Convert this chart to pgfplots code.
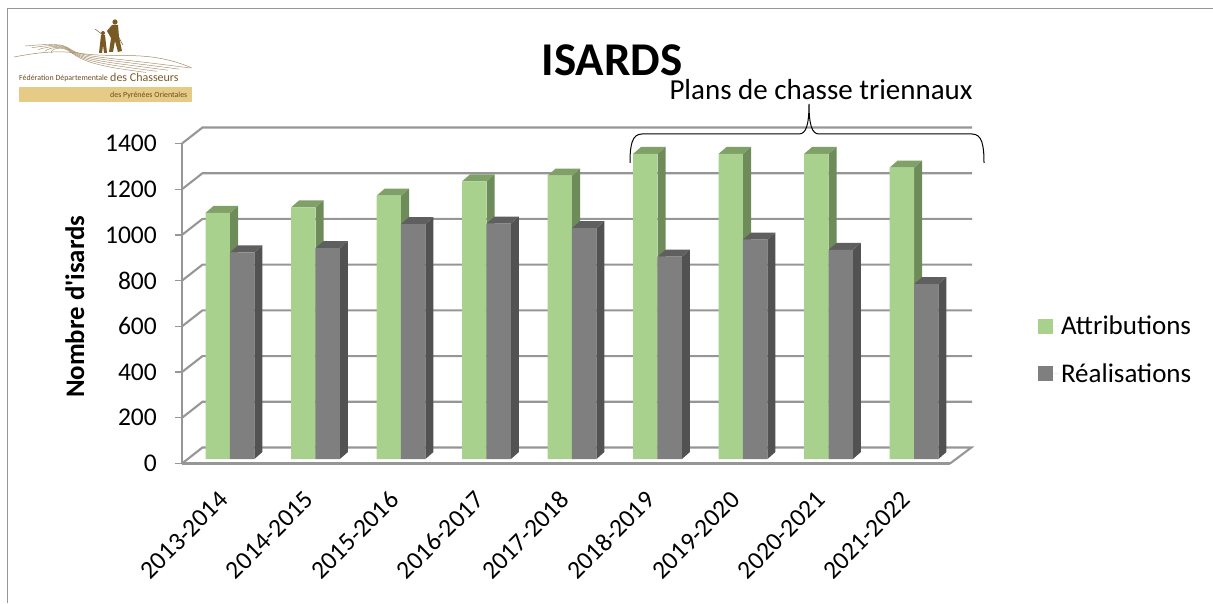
\documentclass[border=0pt]{standalone}
\usepackage{pgfplots}
\usepackage{pgfplotstable}
\usepackage{fontspec}
\pgfplotsset{compat=1.18}
\setmainfont{Carlito}[Ligatures=TeXOff]
\definecolor{gridg}{HTML}{969696}
\definecolor{attrF}{HTML}{A9D18E}
\definecolor{attrT}{HTML}{7FA067}
\definecolor{attrS}{HTML}{6E8C5A}
\definecolor{realF}{HTML}{7F7F7F}
\definecolor{realT}{HTML}{5F5F5F}
\definecolor{realS}{HTML}{525252}
\definecolor{logoB}{HTML}{7A5A24}
\definecolor{logoY}{HTML}{E6CB86}
\pgfplotstableread{
x     attr  real
0.000 1077  904
1.002 1101  923
2.004 1152  1028
3.006 1215  1030
4.008 1240  1010
5.010 1335  885
6.012 1335  960
7.014 1335  915
8.016 1275  765
}\datatable
\begin{document}
\begin{tikzpicture}[x=1pt,y=1pt]
\path[use as bounding box] (0,0) rectangle (1213,603);
\begin{scope}[yshift=603pt,y=-1pt]
\draw[gridg,line width=1pt] (7.5,603) -- (7.5,8.5) -- (1213,8.5);
% logo
\fill[logoY] (19,87) rectangle (192,102);
\node[anchor=west,inner sep=0pt,text=logoB!85!black,font=\fontsize{7.9}{10}\selectfont] at (19,78.5) {Fédération Départementale};
\node[anchor=west,inner sep=0pt,text=logoB,font=\fontsize{12}{15}\selectfont] at (110,77.5) {des Chasseurs};
\node[anchor=west,inner sep=0pt,text=logoB!85!black,font=\fontsize{7.9}{10}\selectfont] at (110,95) {des Pyrénées Orientales};
\foreach \d in {0,2.2,4.4,6.6,8.8}{
  \draw[logoB!70,line width=.45pt] (\d*3+25,46+\d*.8) .. controls (50,44+\d*.5) and (62,43+\d*.3) .. (70,49+\d*.3) .. controls (84,58+\d*.5) and (100,56+\d*1.2) .. (190-\d*5,68+\d*.5);
}
\draw[logoB!70,line width=.5pt] (14,57) .. controls (40,52) and (60,50) .. (85,54) .. controls (120,58) and (150,50) .. (192,68);
\fill[logoB] (115,22) circle (2.6);
\fill[logoB] (112,25) -- (118,25) -- (119,37) -- (122,51) -- (118,52) -- (115,41) -- (113,52) -- (109,52) -- (111,38) -- (107,31) -- cycle;
\fill[logoB] (103,33) circle (2);
\fill[logoB] (101,35) -- (105,35) -- (106,44) -- (107,53) -- (104,53) -- (103,45) -- (102,53) -- (99,53) -- (100,44) -- cycle;
\draw[logoB,line width=.5pt] (95,29) -- (103,35) (118,36) -- (123,45);
\end{scope}
% chart
\begin{axis}[
  at={(182pt,139.5pt)},anchor=south west,
  scale only axis,width=768pt,height=320pt,
  xmin=-0.5,xmax=8.5,ymin=0,ymax=1400,
  clip=false,
  axis x line*=bottom,axis y line*=left,
  axis line style={draw=gridg,line width=2.1pt,-},
  tick style={draw=gridg,line width=1.4pt},
  tick align=outside,
  major tick length=7pt,
  x tick style={draw=none},
  xtick={0,...,8},
  xticklabels={2013-2014,2014-2015,2015-2016,2016-2017,2017-2018,2018-2019,2019-2020,2020-2021,2021-2022},
  ytick={0,200,...,1400},
  /pgf/number format/assume math mode=true,
  /pgf/number format/1000 sep={},
  tick label style={font=\fontsize{25.5}{30}\selectfont,text=black},
  xticklabel style={rotate=45,anchor=east,inner sep=0pt,xshift=-18.5pt,yshift=-17pt},
  yticklabel style={inner sep=0pt,xshift=-18pt},
  ylabel={Nombre d'isards},
  ylabel style={font=\bfseries\fontsize{26.8}{28}\selectfont,at={(axis description cs:-0.1395,0.49)},anchor=center,rotate=0},
  legend style={draw=none,fill=none,at={(1.1146,0.355)},anchor=west,inner sep=0pt,outer sep=0pt,
    font=\fontsize{27}{30}\selectfont,row sep=23pt},
  legend cell align=left,
]
% walls and floor
\pgfplotsinvokeforeach{200,400,...,1400}{
  \addplot[gridg,line width=2.1pt,forget plot] coordinates {(-0.5,#1) (-0.26,70+#1) (8.76,70+#1)};
}
\addplot[gridg,line width=2.1pt,forget plot] coordinates {(-0.5,0) (-0.26,70) (8.75,70) (8.5,0)};
% bars
\pgfplotsinvokeforeach{0,...,8}{
  \pgfplotstablegetelem{#1}{x}\of\datatable\edef\xc{\pgfplotsretval}
  \pgfplotstablegetelem{#1}{attr}\of\datatable\edef\va{\pgfplotsretval}
  \pgfplotstablegetelem{#1}{real}\of\datatable\edef\vr{\pgfplotsretval}
  \pgfmathsetmacro\xA{\xc+0.0625-0.286}
  \pgfmathsetmacro\xB{\xc+0.0625}
  \pgfmathsetmacro\xC{\xc+0.0625+0.286}
  \pgfmathsetmacro\xAd{\xA+0.094}
  \pgfmathsetmacro\xBd{\xB+0.094}
  \pgfmathsetmacro\xCd{\xC+0.094}
  \pgfmathsetmacro\dva{\va+30.6}
  \pgfmathsetmacro\dvr{\vr+30.6}
  \edef\tmp{
   \noexpand\addplot[fill=attrS,draw=none,forget plot,yshift=4.5pt] coordinates {(\xB,0)(\xBd,30.6)(\xBd,\dva)(\xB,\va)} --cycle;
   \noexpand\addplot[fill=attrT,draw=none,forget plot,yshift=4.5pt] coordinates {(\xA,\va)(\xB,\va)(\xBd,\dva)(\xAd,\dva)} --cycle;
   \noexpand\addplot[fill=realS,draw=none,forget plot,yshift=4.5pt] coordinates {(\xC,0)(\xCd,30.6)(\xCd,\dvr)(\xC,\vr)} --cycle;
   \noexpand\addplot[fill=realT,draw=none,forget plot,yshift=4.5pt] coordinates {(\xB,\vr)(\xC,\vr)(\xCd,\dvr)(\xBd,\dvr)} --cycle;
  }
  \tmp
}
\pgfplotsset{my legend/.style={legend image code/.code={\fill[##1] (0pt,-12pt) rectangle (15pt,3pt);\path (0pt,-4.5pt) -- (21pt,-4.5pt);}}}
\addplot[ybar,my legend,bar width=24.4pt,bar shift=-6.9pt,fill=attrF,draw=none,yshift=4.5pt] table[x=x,y=attr] {\datatable};
\addlegendentry{Attributions}
\addplot[ybar,my legend,bar width=24.4pt,bar shift=17.5pt,fill=realF,draw=none,yshift=4.5pt] table[x=x,y=real] {\datatable};
\addlegendentry{Réalisations}
\end{axis}
% title and brace
\begin{scope}[yshift=603pt,y=-1pt]
\node[font=\bfseries\fontsize{47}{50}\selectfont,inner sep=0pt] at (612,60) {ISARDS};
\node[font=\fontsize{29}{30}\selectfont,inner sep=0pt] at (821,90) {Plans de chasse triennaux};
\draw[black,line width=1pt] (630,163) .. controls (630,145) and (632,134) .. (642,134) -- (799,134)
  .. controls (806,134) and (809,125) .. (809,104) .. controls (809,125) and (812,134) .. (819,134) -- (972,134)
  .. controls (982,134) and (984,145) .. (984,163);
\end{scope}
\end{tikzpicture}
\end{document}
